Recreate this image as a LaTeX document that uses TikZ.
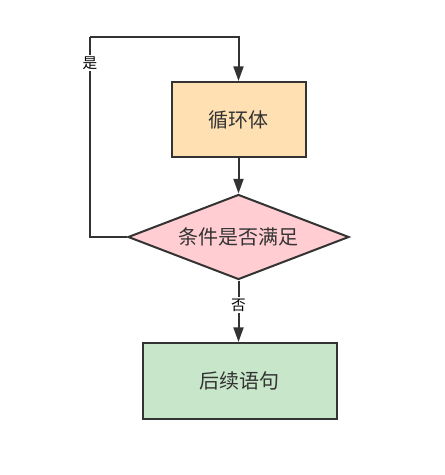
\documentclass[tikz,border=0pt]{standalone}
\usepackage{fontspec}
\setmainfont{Noto Sans CJK SC}
\usepackage{xcolor}
\usetikzlibrary{shapes.geometric}
\usetikzlibrary{arrows.meta}
\definecolor{linegray}{HTML}{333333}
\definecolor{loopfill}{HTML}{FFE0B2}
\definecolor{condfill}{HTML}{FFCDD2}
\definecolor{nextfill}{HTML}{C8E6C9}
\tikzset{
	flowline/.style={draw=linegray,line width=1.5pt,-{Triangle[length=11pt,width=7.5pt]}},
	plainline/.style={draw=linegray,line width=1.5pt},
	boxnode/.style={draw=linegray,line width=1.5pt,rectangle,text=linegray,font=\fontsize{15}{17}\selectfont,inner sep=0pt},
	tagnode/.style={fill=white,text=black,font=\fontsize{11}{12}\selectfont,inner sep=1pt}
}
\begin{document}
\begin{tikzpicture}[x=0.75pt,y=-0.75pt]
		\useasboundingbox (0,0) rectangle (444,475);
		
		\node[boxnode,fill=loopfill,minimum width=134*0.75pt,minimum height=75*0.75pt] (loop) at (238.5,119.5) {循环体};
		
		\node[boxnode,fill=condfill,diamond,aspect=2.6,minimum width=221*0.75pt,minimum height=85*0.75pt] (cond) at (238.5,237) {条件是否满足};
		
		\node[boxnode,fill=nextfill,minimum width=194*0.75pt,minimum height=76*0.75pt] (next) at (239.5,381) {后续语句};
		
		\coordinate (back) at (90,237);
		\coordinate (topleft) at (90,37);
		\coordinate (topright) at (238.5,37);
		
		\draw[flowline] (loop)--(cond);
		\draw[flowline] (cond.south)--(cond.south |- next.north) node[tagnode,pos=0.4]{否};
		\draw[plainline] (cond.west)--(back)--(topleft);
		\draw[flowline] (topleft)--(topright)--(loop.north);
		\path (topleft)--(back) node[tagnode,pos=0.13]{是};
\end{tikzpicture}
\end{document}
